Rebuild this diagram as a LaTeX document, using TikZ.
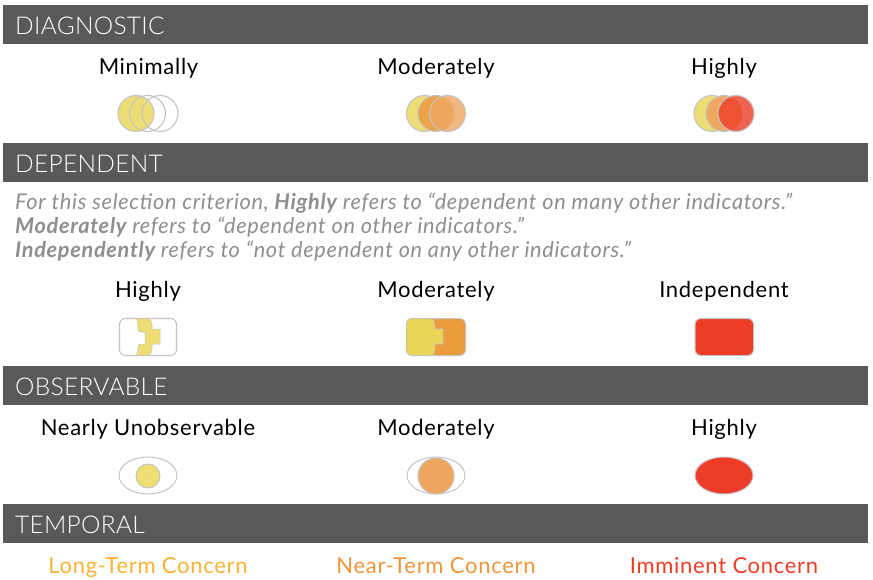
\documentclass[tikz,border=0pt]{standalone}
\usepackage{fontspec}
\setmainfont{Lato}
\newfontfamily\lightf[LetterSpace=1.2]{Lato Light}
\newfontfamily\regf[LetterSpace=3.2]{Lato}
\definecolor{bar}{HTML}{58595B}
\definecolor{ring}{HTML}{C4C4C4}
\definecolor{yel}{HTML}{EEDD74}
\definecolor{yelb}{HTML}{E9D657}
\definecolor{org}{HTML}{EC9A3E}
\definecolor{obsorg}{HTML}{EFA65F}
\definecolor{red1}{HTML}{EE3D26}
\definecolor{gtext}{HTML}{8E8F91}
\definecolor{c1col}{HTML}{F9B233}
\definecolor{c2col}{HTML}{F0953A}
\tikzset{
 barbox/.style={fill=bar,draw=none,minimum width=865pt,minimum height=39pt,inner sep=0pt,outer sep=0pt},
 bartext/.style={text=white,font=\fontsize{24.5}{26}\lightf,anchor=base west,inner sep=0pt},
 lab/.style={text=black,font=\fontsize{22}{24}\regf,anchor=base,inner sep=0pt},
 note/.style={text=gtext,font=\fontsize{21.7}{24}\regf\itshape,anchor=base west,inner sep=0pt},
 ringc/.style={draw=ring,line width=1.1pt},
 concern/.style={font=\fontsize{22}{24}\regf,anchor=base,inner sep=0pt},
}
\begin{document}
\begin{tikzpicture}[x=1pt,y=-1pt]
\useasboundingbox (0,0) rectangle (873,580);
\fill[white] (0,0) rectangle (873,580);
% bars
\node[barbox,anchor=north west] (b1) at (3,5) {};
\node[barbox,anchor=north west] (b2) at (3,143) {};
\node[barbox,anchor=north west] (b3) at (3,366) {};
\node[barbox,anchor=north west] (b4) at (3,504) {};
\node[bartext] (t1) at (15,35) {DIAGNOSTIC};
\node[bartext] (t2) at (15,173) {DEPENDENT};
\node[bartext] (t3) at (15,395.5) {OBSERVABLE};
\node[bartext] (t4) at (15,533.5) {TEMPORAL};
% labels
\node[lab] (l1) at (148.5,74.5) {Minimally};
\node[lab] (l2) at (436,74.5) {Moderately};
\node[lab] (l3) at (724,74.5) {Highly};
\node[lab] (l4) at (148,297.5) {Highly};
\node[lab] (l5) at (436,297.5) {Moderately};
\node[lab] (l6) at (724,297.5) {Independent};
\node[lab] (l7) at (148,435.5) {Nearly Unobservable};
\node[lab] (l8) at (436,435.5) {Moderately};
\node[lab] (l9) at (724,435.5) {Highly};
\node[concern,text=c1col] (c1) at (148,573) {Long-Term Concern};
\node[concern,text=c2col] (c2) at (436,573) {Near-Term Concern};
\node[concern,text=red1] (c3) at (724,573) {Imminent Concern};
% note
\node[note] (n1) at (15,210) {For this selection criterion, \textbf{Highly} refers to “dependent on many other indicators.”};
\node[note] (n2) at (15,234) {\textbf{Moderately} refers to “dependent on other indicators.”};
\node[note] (n3) at (15,258) {\textbf{Independently} refers to “not dependent on any other indicators.”};
% diagnostic minimal
\fill[yel] (136,113.5) circle (18);
\draw[ringc] (136,113.5) circle (18);
\draw[ringc] (147.5,113.5) circle (18);
\draw[ringc] (160,113.5) circle (18);
% diagnostic moderate
\fill[yel] (424.5,113.5) circle (18);
\draw[ringc] (424.5,113.5) circle (18);
\fill[org,fill opacity=.85] (436,113.5) circle (18);
\draw[ringc] (436,113.5) circle (18);
\fill[obsorg,fill opacity=.8] (447.5,113.5) circle (18);
\draw[ringc] (447.5,113.5) circle (18);
% diagnostic high
\fill[yel] (712,113.5) circle (18);
\draw[ringc] (712,113.5) circle (18);
\fill[obsorg,fill opacity=.95] (724,113.5) circle (18);
\draw[ringc] (724,113.5) circle (18);
\fill[red1,fill opacity=.8] (736,113.5) circle (18);
\draw[ringc] (736,113.5) circle (18);
% dependent high
\draw[ringc,rounded corners=6pt] (119.5,318.5) rectangle (176.5,355.5);
\path[fill=yel,draw=ring,line width=.5pt]
  (136,318.5) -- (146,318.5) .. controls (150,318.5) and (152,321) .. (152,325)
  -- (152,329) -- (160,329) -- (160,344) -- (152,344) -- (152,349)
  .. controls (152,353) and (150,355.5) .. (146,355.5) -- (136,355.5)
  .. controls (138,353) and (138,350) .. (138,347) .. controls (138,345) and (139,344) .. (141,344)
  -- (145,344) -- (145,332) -- (141,332) .. controls (139,332) and (138,331) .. (138,329)
  .. controls (138,325) and (138,321) .. (136,318.5) -- cycle;
% dependent moderate
\draw[ring,fill=org,line width=1pt,rounded corners=6pt] (406.5,318.5) rectangle (465.5,355.5);
\path[fill=yelb,draw=ring,line width=.6pt]
  (412.5,318.5) -- (429,318.5) .. controls (433,318.5) and (435,321) .. (435,325)
  -- (435,329) -- (443,329) -- (443,344) -- (435,344) -- (435,349)
  .. controls (435,353) and (433,355.5) .. (429,355.5) -- (412.5,355.5)
  .. controls (408.5,355.5) and (406.5,353) .. (406.5,349.5) -- (406.5,324.5)
  .. controls (406.5,321) and (408.5,318.5) .. (412.5,318.5) -- cycle;
% independent
\draw[ring,fill=red1,line width=1pt,rounded corners=6pt] (695,318.5) rectangle (753.5,355.5);
% observable
\draw[ring,line width=1pt] (148,475.5) ellipse (29 and 18.5);
\fill[yel] (148,476) circle (12);
\draw[ring,line width=.9pt] (148,476) circle (12);
\draw[ring,line width=1pt] (436,475.5) ellipse (29 and 18.5);
\fill[obsorg] (436,476) circle (18);
\draw[ring,line width=1pt] (436,476) circle (18);
\draw[ring,line width=1pt,fill=red1] (724,475.5) ellipse (29 and 18.5);
\end{tikzpicture}
\end{document}
